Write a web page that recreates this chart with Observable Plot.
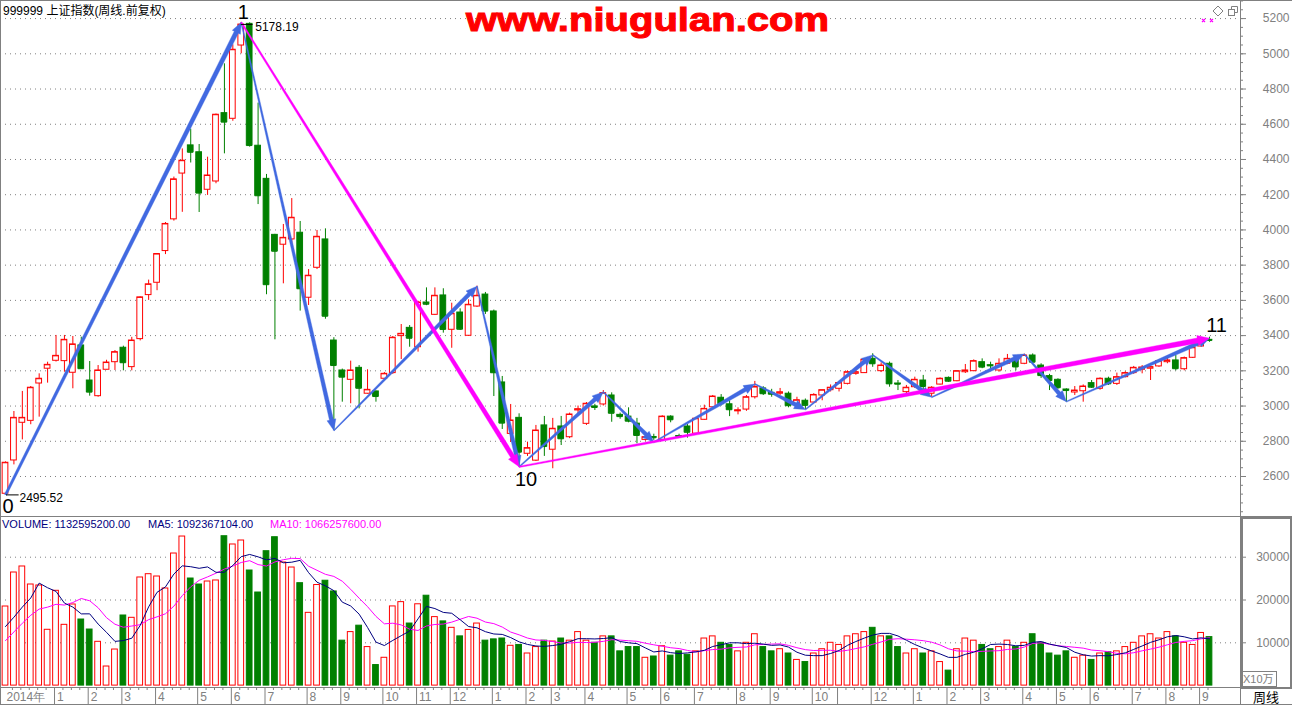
<!DOCTYPE html>
<html><head><meta charset="utf-8">
<script src="https://cdn.jsdelivr.net/npm/d3@7"></script>
<script src="https://cdn.jsdelivr.net/npm/@observablehq/plot@0.6"></script>
<style>
html,body{margin:0;padding:0;background:#fff;overflow:hidden}
#root{position:relative;width:1292px;height:705px;font-family:"Liberation Sans",Arial,sans-serif;overflow:hidden}
.abs{position:absolute;white-space:nowrap}
.abs svg{display:block;max-width:none}
</style></head><body><div id="root"></div>
<script>
// ---------- data (weekly, 2014-11-24 .. 2017-09-04) ----------
const open = [
2502,2691,2905,2916,3128,3212,3257,3255,3189,3344,
3145,3056,3206,3249,3331,3221,3380,3630,3700,3880,
4060,4320,4480,4441,4228,4275,4663,4631,5047,5170,
4478,4290,3972,3916,3946,3984,3615,3785,3946,3372,
3202,3149,3217,3070,3083,3155,3187,3397,3444,3334,
3588,3518,3628,3433,3531,3399,3565,3633,3537,3134,
2842,2933,2729,2690,2890,2752,2884,2823,2975,2899,
2998,3009,3060,2950,2940,2900,2808,2824,2808,2940,
2830,2884,2843,2922,2993,3047,3010,2970,2980,3050,
3100,3075,3070,3070,3010,3030,3020,3060,3090,3098,
3126,3183,3187,3268,3198,3240,3128,3079,3107,3145,
3070,3122,3160,3141,3192,3198,3249,3232,3202,3240,
3266,3240,3287,3230,3170,3149,3094,3077,3084,3130,
3098,3155,3126,3164,3187,3206,3212,3225,3249,3259,
3209,3274,3338,3376];
const high = [
2683,2969,3083,3111,3183,3249,3401,3401,3395,3391,
3253,3230,3260,3315,3340,3390,3620,3715,3865,4042,
4300,4460,4572,4485,4413,4658,4943,5051,5178.19,5176,
4720,4315,3975,4031,4178,4048,3775,3997,4006,3388,
3210,3255,3230,3206,3085,3190,3395,3463,3457,3595,
3671,3671,3666,3584,3552,3603,3681,3645,3545,3168,
3009,2956,2795,2890,2941,2930,2941,2960,3000,3020,
3010,3088,3075,2960,2990,2930,2845,2840,2945,2945,
2840,2895,2935,3005,3060,3065,3030,2990,3060,3140,
3110,3095,3100,3080,3050,3040,3070,3090,3120,3135,
3200,3210,3270,3297,3245,3250,3145,3117,3164,3174,
3110,3160,3165,3200,3236,3262,3268,3249,3268,3293,
3280,3295,3296,3240,3180,3155,3098,3111,3120,3145,
3160,3164,3187,3195,3225,3230,3225,3262,3281,3287,
3278,3340,3390,3391];
const low = [
2495.52,2666,2808,2894,2937,3130,3250,3192,3098,3212,
3056,3050,3206,3202,3200,3200,3370,3600,3655,3860,
4050,4100,4380,4099,4196,4262,4432,4617,5000,4470,
4144,3632,3376,3694,3912,3539,3571,3775,3493,2861,
3022,3013,2984,3068,3022,3150,3180,3264,3334,3306,
3570,3515,3414,3328,3430,3395,3560,3520,3054,2867,
2793,2657,2714,2685,2714,2644,2776,2815,2955,2890,
2975,3000,2908,2925,2905,2786,2800,2805,2800,2905,
2824,2818,2843,2920,2990,3000,2940,2950,2970,3040,
3060,3050,3060,2990,3000,2980,3020,3030,3080,3080,
3120,3175,3185,3220,3190,3107,3088,3070,3100,3092,
3050,3120,3135,3138,3185,3195,3212,3202,3192,3235,
3200,3235,3240,3157,3088,3095,3022,3060,3022,3100,
3090,3117,3117,3160,3180,3183,3145,3220,3240,3200,
3200,3270,3335,3362];
const close = [
2678,2933,2933,3104,3155,3234,3285,3376,3350,3212,
3079,3202,3247,3306,3246,3372,3617,3691,3863,4034,
4287,4393,4441,4209,4309,4654,4612,5023,5166,4479,
4194,3689,3879,3955,4069,3666,3740,3961,3510,3230,
3164,3202,3101,3092,3054,3183,3388,3410,3385,3588,
3578,3626,3435,3524,3436,3575,3626,3539,3189,2903,
2918,2738,2761,2861,2770,2871,2814,2952,2982,3013,
2992,3073,2959,2940,2914,2833,2823,2820,2940,2922,
2826,2851,2928,2984,3054,3013,2979,2976,3050,3108,
3070,3067,3078,3002,3033,3004,3063,3090,3104,3131,
3192,3192,3263,3240,3230,3126,3124,3104,3149,3111,
3104,3155,3141,3198,3202,3255,3221,3228,3240,3268,
3222,3287,3249,3173,3145,3104,3088,3088,3111,3107,
3155,3126,3164,3187,3217,3219,3221,3255,3259,3212,
3272,3331,3385,3372];
// volume in units of 10万
const volume = [
18480,26425,27830,23620,23390,13040,22150,14200,18950,15440,
13100,10230,4460,8430,16380,15840,25260,26030,25490,22690,
30860,34830,25020,23620,24320,24560,34900,32970,33900,26890,
21750,31400,34670,28760,27590,23930,17000,23500,24500,22000,
10500,12500,14000,9000,4800,6500,18500,19500,14500,19000,
21000,16000,15000,13500,11500,13000,14500,10500,10800,11000,
9300,9500,7500,9000,10500,10300,11000,10500,12500,10500,
10000,11500,11500,8000,9000,9000,6500,6800,9200,7000,
8000,7200,8000,11000,11500,10000,9500,8000,10000,12000,
9000,8000,8500,7500,6000,5500,7500,8500,10000,9500,
11500,12000,12500,13500,11500,11500,9000,7500,8500,7500,
8000,5500,3500,8500,11000,10500,9500,8500,9000,10500,
9000,10000,12000,10000,7500,7000,8000,6500,7000,6000,
7500,7800,8000,9000,10000,11500,12000,11000,12500,11500,
10000,9500,12300,11326];
// weeks before the first bar, only used to start the moving averages
const volumePrior = [6000,7500,5000,9000,8500,15500,16000,13000,6000];
const monthIndex = [0,6,10,14,18,23,27,31,36,40,45,49,53,58,62,65,69,74,78,82,87,91,96,99,103,108,112,116,121,125,129,134,138,142];
const monthLabel = ["2014年","1","2","3","4","5","6","7","8","9","10","11","12","1","2","3","4","5","6","7","8","9","10","","12","1","2","3","4","5","6","7","8","9"];
const priceTicks = [2600,2800,3000,3200,3400,3600,3800,4000,4200,4400,4600,4800,5000,5200];
const volumeTicks = [10000,20000,30000];
// wave points (week index, price)
const waveIndex = [0,28,39,56,61,71,77,89,95,103,110,121,126,143];
const wavePrice = [2495.52,5178.19,2861,3680,2655,3080,2795,3125,2980,3290,3050,3295,3025,3385];
const waveNames = ["0","1","10","11"];
const waveNamed = [0,1,4,13];

// ---------- styles ----------
const RED="#FF0000", GREEN="#008000", BLUE="#4169E1", MAG="#FF00FF", NAVY="#000080", GRAY="#808080";
const FONT = '"Liberation Sans", Arial, sans-serif';
const root = document.getElementById("root");
function place(node, left, top, w, h){
  const d = document.createElement("div"); d.className="abs";
  d.style.left=left+"px"; d.style.top=top+"px";
  if (w) d.style.width=w+"px"; if (h) d.style.height=h+"px";
  d.appendChild(node); root.appendChild(d); return d;
}
function html(s, left, top, css){
  const d = document.createElement("div"); d.className="abs";
  d.style.left=left+"px"; d.style.top=top+"px"; d.style.cssText += css||"";
  d.innerHTML=s; root.appendChild(d); return d;
}

const N = open.length;
const rows = open.map((o,i)=>({i,o,h:high[i],l:low[i],c:close[i],v:volume[i],up:close[i]>=o}));
const full = volumePrior.concat(volume);
const P = volumePrior.length;
const maRows = k => volume.map((_,i)=>({i, v:d3.mean(full.slice(i+P-k+1, i+P+1))}));

const xOpt = {domain:[0,N-1], range:[5,1209]};
const yP = {domain:[2600,5000], range:[476,53.3]};
const yV = {domain:[0,30000], range:[169.1,40.7]};
const HW = 0.34; // half body width in weeks

// ---------- tapered arrows ----------
const xs = d3.scaleLinear(xOpt.domain, xOpt.range), ys = d3.scaleLinear(yP.domain, yP.range);
function arrowPoly(id, a, b, w0, w1, head, headW){
  const ax=xs(a[0]), ay=ys(a[1]), bx=xs(b[0]), by=ys(b[1]);
  const L=Math.hypot(bx-ax,by-ay), ux=(bx-ax)/L, uy=(by-ay)/L, nx=-uy, ny=ux;
  const cx=bx-ux*head, cy=by-uy*head;
  const pts=[[ax+nx*w0/2,ay+ny*w0/2],[cx+nx*w1/2,cy+ny*w1/2],[cx+nx*headW/2,cy+ny*headW/2],[bx,by],
             [cx-nx*headW/2,cy-ny*headW/2],[cx-nx*w1/2,cy-ny*w1/2],[ax-nx*w0/2,ay-ny*w0/2]];
  return pts.map(([x,y])=>({id, x:xs.invert(x), y:ys.invert(y)}));
}
const wp = waveIndex.map((x,k)=>[x, wavePrice[k]]);
let blue = [];
for (let k=0;k<wp.length-1;k++){
  blue = blue.concat(arrowPoly("b"+k, wp[k], wp[k+1], k===0?2.4:1, k===0?4.5:4, 11, 9));
}
const magenta = arrowPoly("m1", wp[1], wp[4], 1.4, 4.5, 12, 10)
  .concat(arrowPoly("m2", wp[4], wp[13], 1.4, 5, 12, 10));
const named = waveNamed.map((k,j)=>({x:wp[k][0], y:wp[k][1], t:waveNames[j]}));
const nameText = (j, dx, dy) => Plot.text([named[j]], {x:"x", y:"y", text:"t", fontSize:20, fill:"black", dx, dy});

// ---------- price panel ----------
const price = Plot.plot({
  width:1240, height:516, margin:0,
  x:{...xOpt, axis:null}, y:{...yP, axis:null}, color:{type:"identity"},
  style:{background:"transparent", fontFamily:FONT, overflow:"visible"},
  marks:[
    Plot.ruleY(priceTicks, {stroke:GRAY, strokeDasharray:"1,4"}),
    Plot.ruleX(rows, {x:"i", y1:"l", y2:"h", stroke:d=>d.up?RED:GREEN}),
    Plot.rect(rows, {x1:d=>d.i-HW, x2:d=>d.i+HW, y1:d=>Math.min(d.o,d.c), y2:d=>Math.max(d.o,d.c),
      fill:d=>d.up?"white":GREEN, stroke:d=>d.up?RED:GREEN}),
    Plot.ruleY(rows, {y:"c", x1:d=>d.i-HW, x2:d=>d.i+HW, stroke:d=>d.up?RED:GREEN}),
    Plot.line(blue, {x:"x", y:"y", z:"id", fill:BLUE, stroke:BLUE, strokeWidth:0.4}),
    Plot.line(magenta, {x:"x", y:"y", z:"id", fill:MAG, stroke:MAG, strokeWidth:0.4}),
    Plot.ruleY([low[0]], {x1:0, x2:1.5, stroke:"black", dx:1}),
    Plot.text([low[0]], {x:0, y:d=>d, text:d=>d.toFixed(2), textAnchor:"start", dx:14, dy:3, fontSize:12, fill:"black"}),
    Plot.ruleY([high[28]], {x1:28, x2:29.4, stroke:"black", dy:2}),
    Plot.text([high[28]], {x:28, y:d=>d, text:d=>d.toFixed(2), textAnchor:"start", dx:14, dy:5, fontSize:12, fill:"black"}),
    nameText(0, 2.5, 11.5),
    nameText(1, 2, -9.5),
    nameText(2, 7, 13),
    nameText(3, 7, -13),
  ]
});
place(price, 0, 0, 1240, 516);

// ---------- price axis ----------
const minorP = d3.range(2400, 5301, 50);
const priceAxis = Plot.plot({
  width:52, height:516, margin:0,
  x:{domain:[0,52], range:[0,52], axis:null}, y:{...yP, axis:null},
  style:{background:"transparent", fontFamily:FONT},
  marks:[
    Plot.ruleY(minorP, {x1:0, x2:3, stroke:GRAY}),
    Plot.ruleY(priceTicks, {x1:0, x2:6, stroke:GRAY}),
    Plot.text(priceTicks, {y:d=>d, text:d=>String(d), frameAnchor:"right", textAnchor:"end", dx:-3, fill:GRAY, fontSize:12})
  ]
});
place(priceAxis, 1240, 0, 52, 516);

// ---------- volume panel ----------
const volPlot = Plot.plot({
  width:1240, height:171, margin:0,
  x:{...xOpt, axis:null}, y:{...yV, axis:null}, color:{type:"identity"},
  style:{background:"transparent", fontFamily:FONT, overflow:"visible"},
  marks:[
    Plot.ruleY(volumeTicks, {stroke:GRAY, strokeDasharray:"1,4"}),
    Plot.rect(rows, {x1:d=>d.i-HW, x2:d=>d.i+HW, y1:0, y2:"v", fill:d=>d.up?"white":GREEN, stroke:d=>d.up?RED:GREEN}),
    Plot.line(maRows(10), {x:"i", y:"v", stroke:MAG, strokeWidth:1}),
    Plot.line(maRows(5), {x:"i", y:"v", stroke:NAVY, strokeWidth:1}),
  ]
});
place(volPlot, 0, 516, 1240, 171);

const minorV = d3.range(5000, 36000, 5000);
const volAxis = Plot.plot({
  width:52, height:171, margin:0,
  x:{domain:[0,52], range:[0,52], axis:null}, y:{...yV, axis:null},
  style:{background:"transparent", fontFamily:FONT},
  marks:[
    Plot.ruleY(minorV, {x1:0, x2:3, stroke:GRAY}),
    Plot.ruleY(volumeTicks, {x1:0, x2:6, stroke:GRAY}),
    Plot.text(volumeTicks, {y:d=>d, text:d=>String(d), frameAnchor:"right", textAnchor:"end", dx:-3, fill:GRAY, fontSize:12})
  ]
});
place(volAxis, 1240, 516, 52, 171);

// ---------- time strip ----------
const months = monthIndex.map((i,k)=>({i, t:monthLabel[k]}));
const weeks = d3.range(N).filter(i=>!monthIndex.includes(i));
const strip = Plot.plot({
  width:1240, height:18, margin:0,
  x:{...xOpt, axis:null}, y:{domain:[0,18], range:[0,18], axis:null},
  style:{background:"transparent", fontFamily:FONT},
  marks:[
    Plot.ruleX(weeks, {y1:0, y2:3, stroke:GRAY, dx:-1.5}),
    Plot.ruleX(monthIndex.slice(1), {stroke:GRAY, dx:-1.5}),
    Plot.text(months, {x:"i", text:"t", frameAnchor:"middle", textAnchor:"start", dx:1, dy:1, fill:GRAY, fontSize:12})
  ]
});
place(strip, 0, 687, 1240, 18);

// ---------- frame ----------
const ns="http://www.w3.org/2000/svg";
const fr = document.createElementNS(ns,"svg");
fr.setAttribute("width",1292); fr.setAttribute("height",705);
fr.innerHTML = `
<g stroke="${GRAY}" fill="none" shape-rendering="crispEdges">
<line x1="0" y1="0.5" x2="1292" y2="0.5"/>
<line x1="0.5" y1="0" x2="0.5" y2="705"/>
<line x1="1240.5" y1="0" x2="1240.5" y2="705"/>
<line x1="0" y1="516.5" x2="1292" y2="516.5"/>
<line x1="0" y1="687.5" x2="1292" y2="687.5"/>
<line x1="0" y1="704.5" x2="1292" y2="704.5"/>
<rect x="1241.5" y="517.5" width="49" height="170" stroke-width="2"/>
<rect x="1241.5" y="671.5" width="35" height="15"/>
</g>
<g stroke="${GRAY}" fill="none">
<path d="M1218 6 l5 5 -5 5 -5 -5 z"/>
<rect x="1228.5" y="9.5" width="6" height="6" fill="white"/>
<path d="M1231.5 9.5 v-3 h6 v6 h-3"/>
</g>
<g stroke="${MAG}" stroke-width="1.2"><path d="M1202 19 l3 3 M1205 19 l-3 3 M1210 19 l3 3 M1213 19 l-3 3"/></g>
<text x="466" y="31" fill="${RED}" stroke="${RED}" stroke-width="1" font-family='"Liberation Sans",Arial,sans-serif' font-weight="bold" font-size="33" textLength="363" lengthAdjust="spacingAndGlyphs">www.niugulan.com</text>
`;
const fd = place(fr, 0, 0, 1292, 705); fd.style.pointerEvents="none";

html("999999 上证指数(周线.前复权)", 3, 4, 'font:12px/14px "Liberation Sans","Noto Sans CJK SC",sans-serif;color:#000;');
html("VOLUME: 1132595200.00", 2, 518, `font:11px/13px ${FONT};color:${NAVY};`);
html("MA5: 1092367104.00", 148, 518, `font:11px/13px ${FONT};color:${NAVY};`);
html("MA10: 1066257600.00", 270, 518, `font:11px/13px ${FONT};color:${MAG};`);
html("X10万", 1243, 672, `font:11px/14px "Liberation Sans","Noto Sans CJK SC",sans-serif;color:${GRAY};`);
html("周线", 1253, 689, 'font:13px/15px "Noto Sans CJK SC",sans-serif;color:#000;');
</script></body></html>
